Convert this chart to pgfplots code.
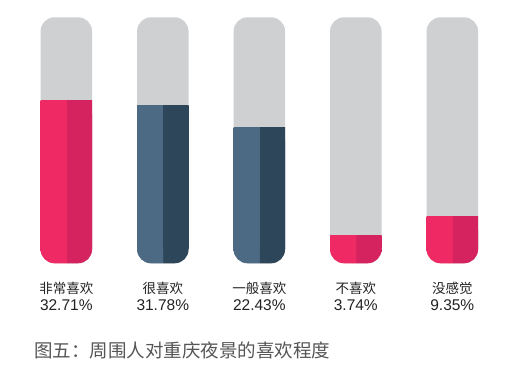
\documentclass[border=0pt]{standalone}
\usepackage{pgfplots}
\pgfplotsset{compat=1.18}
\usepackage{fontspec}
\setmainfont{Liberation Sans}
\newfontfamily\cjk{Noto Sans CJK SC}
\definecolor{cgray}{HTML}{CFD0D2}
\definecolor{pinkL}{HTML}{EF2963}
\definecolor{pinkD}{HTML}{D5235F}
\definecolor{blueL}{HTML}{4C6A84}
\definecolor{blueD}{HTML}{2D4659}
\definecolor{labelc}{HTML}{222222}
\definecolor{capc}{HTML}{555555}
\pgfdeclarehorizontalshading{pinkcyl}{100bp}{color(0bp)=(pinkL); color(49.9bp)=(pinkL); color(50.1bp)=(pinkD); color(100bp)=(pinkD)}
\pgfdeclarehorizontalshading{bluecyl}{100bp}{color(0bp)=(blueL); color(49.9bp)=(blueL); color(50.1bp)=(blueD); color(100bp)=(blueD)}
\pgfplotsset{
  cylax/.style={scale only axis, anchor=south west, x=96.5pt, y=4.962pt,
    xmin=-0.687, xmax=4.826, ymax=53.06, hide axis},
  cyl/.style={ybar, bar width=51.5pt, bar shift=0pt, draw=none},
}
\begin{document}
\begin{tikzpicture}
\path[use as bounding box] (0pt,0pt) rectangle (532pt,368pt);
% full cylinders and rounded coloured parts
\begin{axis}[cylax, at={(0pt,0pt)}, ymin=-21.10]
\addplot[cyl, fill=cgray, rounded corners=14pt] coordinates {(0,49.58) (1,49.58) (2,49.58) (3,49.58) (4,49.58)};
\addplot[cyl, shade, shading=pinkcyl, rounded corners=14pt] coordinates {(0,32.71)};
\addplot[cyl, shade, shading=bluecyl, rounded corners=14pt] coordinates {(1,31.90)};
\addplot[cyl, shade, shading=bluecyl, rounded corners=14pt] coordinates {(2,27.41)};
\addplot[cyl, shade, shading=pinkcyl, rounded corners=14pt] coordinates {(3,5.70)};
\addplot[cyl, shade, shading=pinkcyl, rounded corners=14pt] coordinates {(4,9.53)};
\begin{scope}[every node/.style={text=labelc, inner sep=0pt}]
\node[font=\cjk\fontsize{13.5}{15}\selectfont] at (axis cs:0,-4.98) {非常喜欢};
\node[font=\cjk\fontsize{13.5}{15}\selectfont] at (axis cs:1,-4.98) {很喜欢};
\node[font=\cjk\fontsize{13.5}{15}\selectfont] at (axis cs:2,-4.98) {一般喜欢};
\node[font=\cjk\fontsize{13.5}{15}\selectfont] at (axis cs:3,-4.98) {不喜欢};
\node[font=\cjk\fontsize{13.5}{15}\selectfont] at (axis cs:4,-4.98) {没感觉};
\node[font=\fontsize{15.5}{17}\selectfont] at (axis cs:0,-8.5) {32.71\%};
\node[font=\fontsize{15.5}{17}\selectfont] at (axis cs:1,-8.5) {31.78\%};
\node[font=\fontsize{15.5}{17}\selectfont] at (axis cs:2,-8.5) {22.43\%};
\node[font=\fontsize{15.5}{17}\selectfont] at (axis cs:3,-8.5) {3.74\%};
\node[font=\fontsize{15.5}{17}\selectfont] at (axis cs:4,-8.5) {9.35\%};
\end{scope}
\end{axis}
% square tops of the coloured parts (clipped above the rounded bottom)
\begin{axis}[cylax, at={(0pt,119.09pt)}, ymin=2.9]
\addplot[cyl, shade, shading=pinkcyl] coordinates {(0,32.71)};
\addplot[cyl, shade, shading=bluecyl] coordinates {(1,31.90)};
\addplot[cyl, shade, shading=bluecyl] coordinates {(2,27.41)};
\addplot[cyl, shade, shading=pinkcyl] coordinates {(3,5.70)};
\addplot[cyl, shade, shading=pinkcyl] coordinates {(4,9.53)};
\end{axis}
\node[anchor=west, inner sep=0pt, text=capc, font=\cjk\fontsize{18.5}{20}\selectfont] at (34pt,18pt) {图五：周围人对重庆夜景的喜欢程度};
\end{tikzpicture}
\end{document}
